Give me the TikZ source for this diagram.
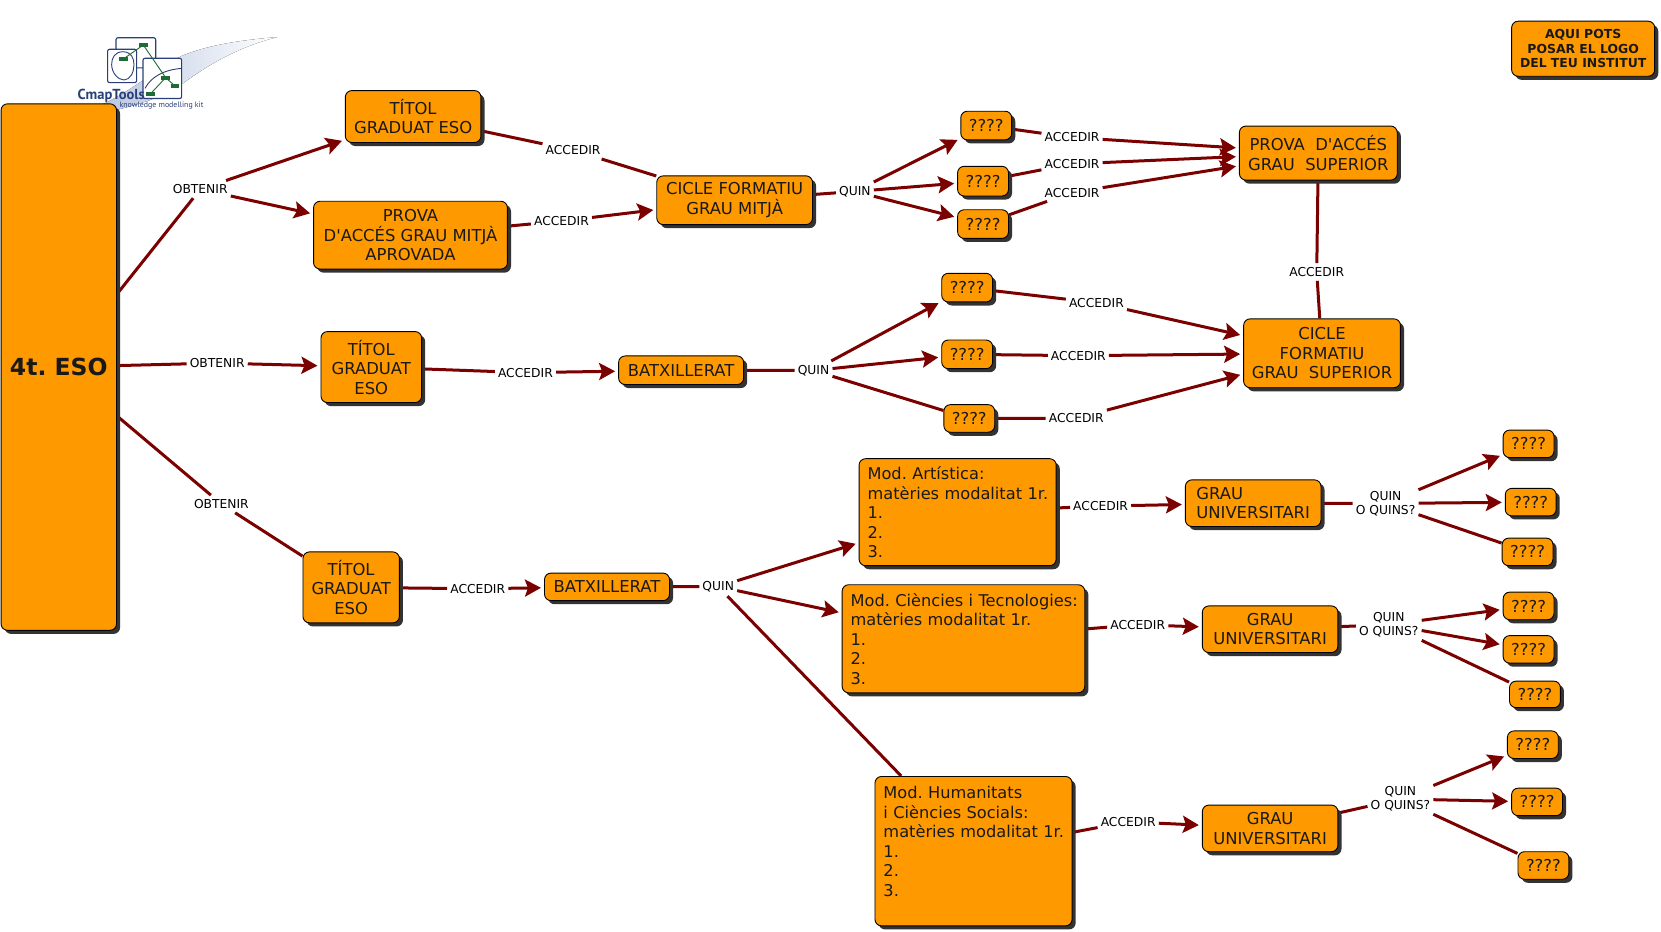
\documentclass[tikz,border=0pt]{standalone}
\usepackage{fontspec}
\setmainfont{DejaVu Sans}[Ligatures=TeXOff]
\newfontfamily\logofont{PT Sans}
\usetikzlibrary{shadows,arrows.meta}
\pgfdeclarelayer{linklayer}
\pgfsetlayers{linklayer,main}
\definecolor{boxorange}{HTML}{FF9900}
\definecolor{linkred}{HTML}{7B0000}
\definecolor{logoblue}{HTML}{2A3F7A}
\definecolor{logogreen}{HTML}{1E6B35}
\definecolor{swoosh}{HTML}{B4C2DE}
\tikzset{
  wh/.style 2 args={minimum width=#1*1.0593pt,minimum height=#2*1.0593pt},
  concept/.style={draw=black,line width=0.9pt,fill=boxorange,rounded corners=6.5pt,inner sep=0pt,outer sep=0.5pt,
    align=center,text=black!90,font=\frenchspacing\fontsize{16.4}{19.5}\selectfont,
    general shadow={shadow xshift=3.6pt,shadow yshift=-3.6pt,fill=black!80,draw=none}},
  modbox/.style={concept,align=left,inner xsep=8.5pt,font=\frenchspacing\fontsize{16.2}{19.5}\selectfont},
  linklabel/.style={inner xsep=3pt,inner ysep=4pt,yshift=-0.8pt,align=center,text=black,font=\fontsize{12.3}{14}\selectfont},
  link/.style={draw=linkred,line width=3pt},
  arrowlink/.style={link,-{Stealth[length=16pt,width=17pt,inset=3pt]},shorten >=3pt}
}
\begin{document}
\begin{tikzpicture}[x=1.0593pt,y=-1.0593pt]
\useasboundingbox (0,0) rectangle (1568,879.8);
% CmapTools logo
\fill[left color=swoosh,right color=white,draw=none]
  (84,104) .. controls (120,90) and (140,70) .. (171,53) .. controls (195,43) and (225,38) .. (262,35)
  .. controls (225,44) and (195,62) .. (171,80) .. controls (155,92) and (120,102) .. (100,106) -- cycle;
\draw[logoblue,fill=white,line width=1.1pt,rounded corners=2pt] (109.5,35.6) rectangle (147,64);
\draw[logoblue,fill=white,line width=1.1pt,rounded corners=2pt] (101.6,46.5) rectangle (129,78);
\draw[logoblue,fill=white,line width=1.1pt,rounded corners=2pt] (135,55) rectangle (171.5,93);
\draw[logoblue,line width=0.9pt] (136.9,83.4) .. controls (143,72) and (155,66) .. (171.5,64.5);
\draw[logoblue,line width=0.9pt] (116,48.8) .. controls (108,49) and (105.4,55) .. (105.4,61) .. controls (105.4,68) and (111,75.5) .. (117,75.5) .. controls (123,75.5) and (126.5,68) .. (126.5,61) .. controls (126.5,55) and (124,49) .. (116,48.8) -- cycle;
\draw[logogreen,line width=0.9pt] (116.4,55.7) -- (135.3,42.5) -- (156.4,73.3) -- (142.2,88.4) (156.4,73.3) -- (165.2,81.2);
\foreach \px/\py in {135.3/42.5,116.4/55.7,156.4/73.3,165.2/81.2,142.2/88.4}{\fill[logogreen] (\px-4,\py-2) rectangle (\px+4,\py+2);}
\node[inner sep=0pt,text=logoblue,font=\logofont\bfseries\fontsize{14.5}{16}\selectfont] (logoname) at (105,90.3) {CmapTools};
\node[inner sep=0pt,text=logoblue,font=\logofont\fontsize{7.9}{10}\selectfont] (logokit) at (152.5,100) {knowledge modelling kit};
% concepts
\node[concept,wh={109}{497},font=\frenchspacing\fontsize{23.5}{30}\selectfont\bfseries] (eso) at (55.5,346.5) {\raisebox{-0.8pt}{4t. ESO}};
\node[concept,wh={128}{49}] (titol1) at (390,110) {TÍTOL\\GRADUAT ESO};
\node[concept,wh={183}{64}] (prova1) at (387.5,222) {PROVA\\D'ACCÉS GRAU MITJÀ\\APROVADA};
\node[concept,wh={147}{46}] (cicle1) at (693.5,189) {CICLE FORMATIU\\GRAU MITJÀ};
\node[concept,wh={48}{27}] (qa) at (931,118.5) {????};
\node[concept,wh={48}{28}] (qb) at (928,171) {????};
\node[concept,wh={48}{27}] (qc) at (928,211.5) {????};
\node[concept,wh={149}{51}] (prova2) at (1244.5,144.5) {PROVA~~D'ACCÉS\\GRAU~~SUPERIOR};
\node[concept,wh={148}{65}] (cicle2) at (1248,333.5) {CICLE\\FORMATIU\\GRAU~~SUPERIOR};
\node[concept,wh={48}{27}] (qd) at (913,271.5) {????};
\node[concept,wh={48}{27}] (qe) at (913,334.5) {????};
\node[concept,wh={48}{26}] (qf) at (915,395) {????};
\node[concept,wh={95}{67}] (titol2) at (350.5,346.5) {TÍTOL\\GRADUAT\\ESO};
\node[concept,wh={118}{27}] (batx1) at (643,349.5) {BATXILLERAT};
\node[concept,wh={91}{67}] (titol3) at (331.5,554.5) {TÍTOL\\GRADUAT\\ESO};
\node[concept,wh={118}{26}] (batx2) at (573,554) {BATXILLERAT};
\node[modbox,wh={186}{101},text width=(186-16)*1.0593pt] (mod1) at (904,483.5) {\mbox{Mod. Artística:}\\\mbox{matèries modalitat 1r.}\\1.\\2.\\3.};
\node[modbox,wh={229}{102},text width=(229-16)*1.0593pt] (mod2) at (909.5,603) {\mbox{Mod. Ciències i Tecnologies:}\\\mbox{matèries modalitat 1r.}\\1.\\2.\\3.};
\node[modbox,wh={186}{141},text width=(186-16)*1.0593pt] (mod3) at (919,803.5) {\mbox{Mod. Humanitats}\\\mbox{i Ciències Socials:}\\\mbox{matèries modalitat 1r.}\\1.\\2.\\3.\\~};
\node[concept,wh={128}{44},align=left] (grau1) at (1183,475) {GRAU\\UNIVERSITARI};
\node[concept,wh={128}{44}] (grau2) at (1199,594) {GRAU\\UNIVERSITARI};
\node[concept,wh={128}{44}] (grau3) at (1199,782) {GRAU\\UNIVERSITARI};
\node[concept,wh={48}{26}] (r1) at (1443,419) {????};
\node[concept,wh={48}{26}] (r2) at (1445,474) {????};
\node[concept,wh={48}{26}] (r3) at (1442,521) {????};
\node[concept,wh={48}{26}] (r4) at (1443,572) {????};
\node[concept,wh={48}{26}] (r5) at (1443,613) {????};
\node[concept,wh={48}{25}] (r6) at (1449,655.5) {????};
\node[concept,wh={48}{26}] (r7) at (1447,703) {????};
\node[concept,wh={48}{26}] (r8) at (1451,757) {????};
\node[concept,wh={48}{26}] (r9) at (1457,817) {????};
\node[concept,wh={135}{52},font=\frenchspacing\fontsize{12.4}{14.4}\selectfont\bfseries] (logobox) at (1494.5,46) {AQUI POTS\\POSAR EL LOGO\\DEL TEU INSTITUT};
% link labels
\node[linklabel] (ob1) at (189,178) {OBTENIR};
\node[linklabel] (ob2) at (205,342) {OBTENIR};
\node[linklabel] (ob3) at (209,475) {OBTENIR};
\node[linklabel] (a1) at (541,141) {ACCEDIR};
\node[linklabel] (a2) at (530,208) {ACCEDIR};
\node[linklabel] (q1) at (807,180) {QUIN};
\node[linklabel] (a3) at (1012,129) {ACCEDIR};
\node[linklabel] (a4) at (1012,154) {ACCEDIR};
\node[linklabel] (a5) at (1012,181) {ACCEDIR};
\node[linklabel] (a6) at (1243,256) {ACCEDIR};
\node[linklabel] (a7) at (496,351) {ACCEDIR};
\node[linklabel] (q2) at (768,349) {QUIN};
\node[linklabel] (a8) at (1035,285) {ACCEDIR};
\node[linklabel] (a9) at (1018,335) {ACCEDIR};
\node[linklabel] (a10) at (1016,394) {ACCEDIR};
\node[linklabel] (a11) at (451,555) {ACCEDIR};
\node[linklabel] (q3) at (678,553) {QUIN};
\node[linklabel] (a12) at (1039,477) {ACCEDIR};
\node[linklabel] (a13) at (1074,589) {ACCEDIR};
\node[linklabel] (a14) at (1065,775) {ACCEDIR};
\node[linklabel] (qq1) at (1308,474.5) {QUIN\\O QUINS?};
\node[linklabel] (qq2) at (1311,589) {QUIN\\O QUINS?};
\node[linklabel] (qq3) at (1322,753.5) {QUIN\\O QUINS?};
% connectors
\begin{pgfonlayer}{linklayer}
\draw[link] (eso) -- (ob1);
\draw[arrowlink] (ob1) -- (titol1);
\draw[arrowlink] (ob1) -- (prova1);
\draw[link] (titol1) -- (a1);
\draw[link] (a1) -- (cicle1);
\draw[link] (prova1) -- (a2);
\draw[arrowlink] (a2) -- (cicle1);
\draw[link] (cicle1) -- (q1);
\draw[arrowlink] (q1) -- (qa);
\draw[arrowlink] (q1) -- (qb);
\draw[arrowlink] (q1) -- (qc);
\draw[link] (qa) -- (a3);
\draw[arrowlink] (a3) -- (prova2);
\draw[link] (qb) -- (a4);
\draw[arrowlink] (a4) -- (prova2);
\draw[link] (qc) -- (a5);
\draw[arrowlink] (a5) -- (prova2);
\draw[link] (prova2) -- (a6);
\draw[link] (a6) -- (cicle2);
\draw[link] (eso) -- (ob2);
\draw[arrowlink] (ob2) -- (titol2);
\draw[link] (titol2) -- (a7);
\draw[arrowlink] (a7) -- (batx1);
\draw[link] (batx1) -- (q2);
\draw[arrowlink] (q2) -- (qd);
\draw[arrowlink] (q2) -- (qe);
\draw[link] (q2) -- (qf);
\draw[link] (qd) -- (a8);
\draw[arrowlink] (a8) -- (cicle2);
\draw[link] (qe) -- (a9);
\draw[arrowlink] (a9) -- (cicle2);
\draw[link] (qf) -- (a10);
\draw[arrowlink] (a10) -- (cicle2);
\draw[link] (eso) -- (ob3);
\draw[link] (ob3) -- (titol3);
\draw[link] (titol3) -- (a11);
\draw[arrowlink] (a11) -- (batx2);
\draw[link] (batx2) -- (q3);
\draw[arrowlink] (q3) -- (mod1);
\draw[arrowlink] (q3) -- (mod2);
\draw[link] (q3) -- (mod3);
\draw[link] (mod1) -- (a12);
\draw[arrowlink] (a12) -- (grau1);
\draw[link] (mod2) -- (a13);
\draw[arrowlink] (a13) -- (grau2);
\draw[link] (mod3) -- (a14);
\draw[arrowlink] (a14) -- (grau3);
\draw[link] (grau1) -- (qq1);
\draw[arrowlink] (qq1) -- (r1);
\draw[arrowlink] (qq1) -- (r2);
\draw[link] (qq1) -- (r3);
\draw[link] (grau2) -- (qq2);
\draw[arrowlink] (qq2) -- (r4);
\draw[arrowlink] (qq2) -- (r5);
\draw[link] (qq2) -- (r6);
\draw[link] (grau3) -- (qq3);
\draw[arrowlink] (qq3) -- (r7);
\draw[arrowlink] (qq3) -- (r8);
\draw[link] (qq3) -- (r9);
\end{pgfonlayer}
\end{tikzpicture}
\end{document}
